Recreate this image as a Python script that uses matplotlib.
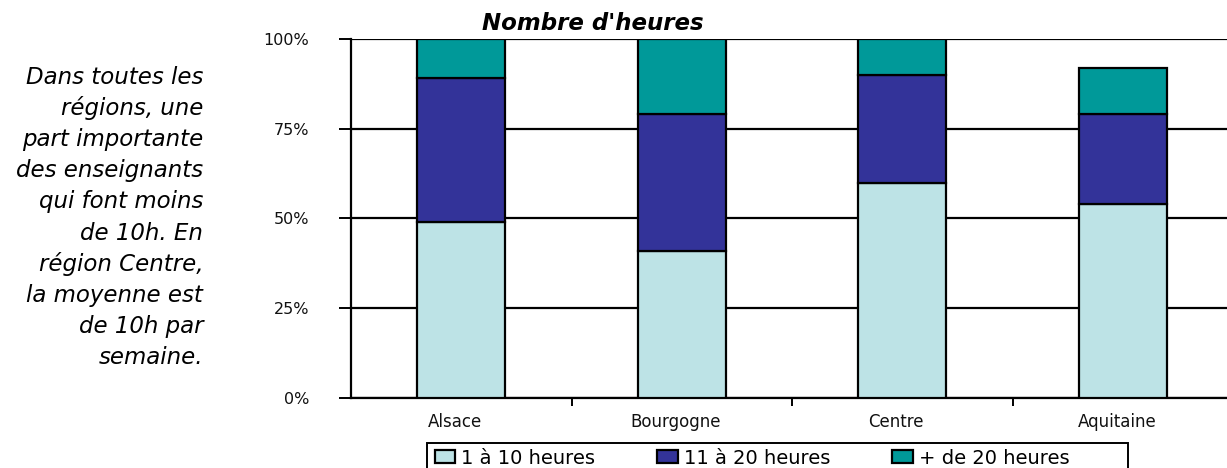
import matplotlib
matplotlib.use("Agg")
import matplotlib.pyplot as plt
import matplotlib.transforms as mtransforms
from matplotlib.patches import Rectangle
import numpy as np

categories = ["Alsace", "Bourgogne", "Centre", "Aquitaine"]
series_names = ["1 à 10 heures", "11 à 20 heures", "+ de 20 heures"]
s1 = [49, 41, 60, 54]
s2 = [40, 38, 30, 25]
s3 = [11, 21, 10, 13]
colors = ["#BDE3E6", "#333399", "#009999"]
yticks = [0, 25, 50, 75, 100]
ytick_labels = ["0%", "25%", "50%", "75%", "100%"]
title = "Nombre d'heures"
note_lines = ["Dans toutes les", "régions, une", "part importante", "des enseignants",
              "qui font moins", "de 10h. En", "région Centre,", "la moyenne est",
              "de 10h par", "semaine."]

W, H = 1227, 468
fig = plt.figure(figsize=(W / 100, H / 100), dpi=100)
left, right, top, bottom = 351, 1233, 39, 398
ax = fig.add_axes([left / W, 1 - bottom / H, (right - left) / W, (bottom - top) / H])

x = np.arange(len(categories))
bw = 0.40
bot = np.zeros(len(categories))
for vals, c, name in zip([s1, s2, s3], colors, series_names):
    ax.bar(x, vals, bw, bottom=bot, color=c, edgecolor="black", linewidth=1.6,
           label=name, zorder=3)
    bot += np.array(vals)

ax.set_xlim(-0.5, 3.5)
ax.set_ylim(0, 100)
ax.set_yticks(yticks)
ax.set_yticklabels(ytick_labels, fontsize=11.5, family="DejaVu Sans", color="#111111")
ax.yaxis.grid(True, color="black", linewidth=1.6, zorder=0)
ax.set_axisbelow(True)
ax.tick_params(axis="y", length=9, width=1.4, pad=21)
for s in ["top", "right"]:
    ax.spines[s].set_visible(False)
ax.spines["left"].set_linewidth(1.6)
ax.spines["bottom"].set_linewidth(1.6)

ax.set_xticks(x)
ax.set_xticklabels(categories, fontsize=12, family="DejaVu Sans", color="#111111")
ax.tick_params(axis="x", length=0, pad=11)
ax.set_xticks(np.arange(0.5, 3.0, 1.0), minor=True)
ax.tick_params(axis="x", which="minor", length=6, width=1.4)
shift = mtransforms.ScaledTranslation(-6 / 100, 0, fig.dpi_scale_trans)
for lab in ax.get_xticklabels():
    lab.set_transform(lab.get_transform() + shift)

fig.text(593 / W, 1 - 24 / H, title, ha="center", va="center", fontsize=16.5,
         fontweight="bold", fontstyle="italic", family="DejaVu Sans")

y0 = 77
for i, line in enumerate(note_lines):
    fig.text(203 / W, 1 - (y0 + i * 31.2) / H, line, ha="right", va="center",
             fontsize=16.5, fontstyle="italic", family="DejaVu Sans")

handles, labels = ax.get_legend_handles_labels()
leg = fig.legend(handles, labels, loc="center left",
                 bbox_to_anchor=(435 / W, 1 - 458 / H), ncol=3, fontsize=14,
                 frameon=False, handlelength=1.05, handleheight=0.62,
                 handletextpad=0.3, columnspacing=3.2, borderpad=0,
                 borderaxespad=0)
fig.patches.append(Rectangle((427 / W, -0.05), (1128 - 427) / W, (468 - 443) / H + 0.05,
                             transform=fig.transFigure, fill=False,
                             edgecolor="black", linewidth=1.4))

fig.savefig("out.png", dpi=100)
